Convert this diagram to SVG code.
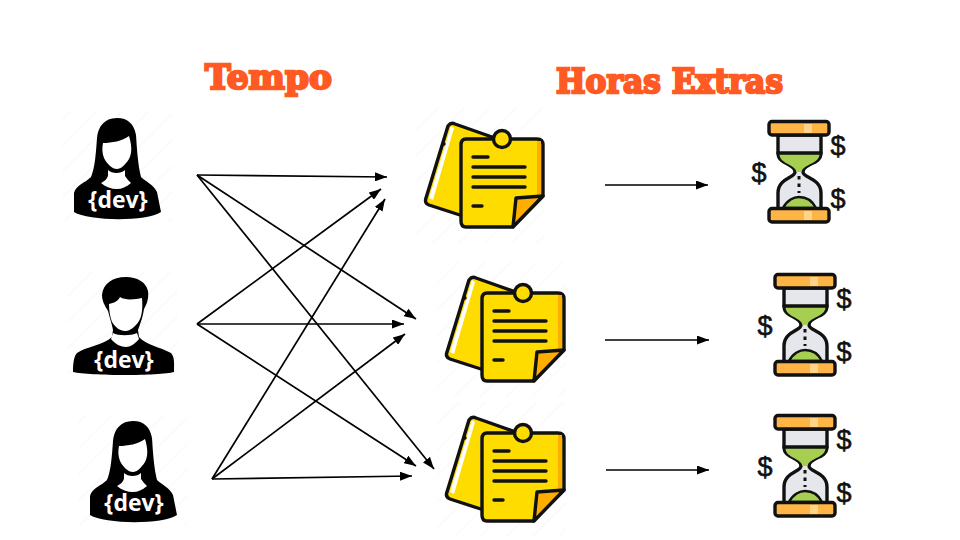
<svg xmlns="http://www.w3.org/2000/svg" width="960" height="540" viewBox="0 0 960 540">
<style>
.title{font-family:"DejaVu Serif","Liberation Serif",serif;font-weight:900;font-size:34px;fill:#ff5a24;stroke:#ff5a24;stroke-width:2.4px;paint-order:stroke}
.dev{font-family:"Open Sans","Liberation Sans",sans-serif;font-weight:700;font-size:23px;fill:#fff;text-anchor:middle}
.usd{font-family:"Liberation Sans",sans-serif;font-size:27px;fill:#111;stroke:#111;stroke-width:.6;text-anchor:middle}
.c line{stroke:#000;stroke-width:1.7;marker-end:url(#ah)}
.k{stroke:#111;stroke-width:3.4;stroke-linejoin:round;stroke-linecap:round}
.l{stroke:#111;stroke-width:3.4;stroke-linecap:round;fill:none}
</style>
<defs>
<marker id="ah" viewBox="0 0 10 10" refX="10" refY="5" markerWidth="12" markerHeight="9" markerUnits="userSpaceOnUse" orient="auto" preserveAspectRatio="none"><path d="M0 0L10 5L0 10Z" fill="#000"/></marker>
<pattern id="st" width="26" height="26" patternUnits="userSpaceOnUse"><path d="M0 26L26 0" stroke="#fafafa" stroke-width="1.5"/></pattern>
<g id="woman">
<rect x="62" y="112" width="110" height="110" fill="url(#st)"/>
<path d="M117 118C104 118 98 127 97 138C96 152 95 168 91 177C85 183 76 185 74 193L74 212C88 221 146 222 161 212L157 192C153 184 146 182 141 177C138 165 137 150 136 135C134 124 128 118 117 118Z" fill="#000"/>
<path d="M103 143C112 143 122 141 129 136C132 146 132 153 129 159C125 165 121 169 117 169C112 169 107 164 104 158C102 153 102 148 103 143Z" fill="#fff"/>
<path d="M108 170C112 174 121 174 125 170L125 176C127 179 129 181 131 183C126 187 122 189 117 189C111 189 106 187 101 183C105 181 108 178 108 175Z" fill="#fff"/>
<text class="dev" x="118" y="208">{dev}</text>
</g>
<g id="note">
<rect x="415" y="108" width="130" height="135" fill="url(#st)"/>
<path class="k" d="M448 126Q451 122 455 124L492 137L463 216L429 205Q424 203 426 198Z" fill="#ffdc00"/>
<path d="M451 126L429 198L433 200L454 128Z" fill="#fff"/>
<circle cx="444" cy="144" r="1.700" fill="#111"/>
<path class="k" d="M466 139H537Q543 139 543 145V196L512 227H466Q461 227 461 221V145Q461 139 466 139Z" fill="#ffdc00"/>
<path d="M537 141H541V194L537 195Z" fill="#ffae00"/>
<path class="k" d="M543 196L516 198L513 227Z" fill="#ffae00"/>
<circle class="k" cx="502" cy="139" r="8.500" fill="#ffdc00"/>
<path class="l" d="M473 157H488M473 167H525M473 177H525M473 187H525M473 206H482"/>
</g>
<g id="glass">
<path class="k" d="M778 135V153C778 165 795 163 795 172C795 178 778 178 778 193V209H821V193C821 178 803 178 803 172C803 163 821 165 821 153V135Z" fill="#e6e7ec"/>
<path d="M779.500 154H819.500C819.500 164 803 164 801.500 172L796.500 172C795 164 779.500 164 779.500 154Z" fill="#a6cf52"/>
<path d="M783 208C787 200 794 197 799 197C805 197 812 200 816 208Z" fill="#a6cf52" stroke="#111" stroke-width="2.500"/>
<path class="l" d="M778 153H821"/>
<rect class="k" x="769" y="121.500" width="60" height="13.500" rx="3" fill="#ffb545"/>
<rect class="k" x="769" y="208.500" width="60" height="13.500" rx="3" fill="#ffb545"/>
<rect x="804" y="124" width="8" height="9" fill="#ffd488"/>
<rect x="804" y="211" width="8" height="9" fill="#ffd488"/>
<path d="M799 176V193" stroke="#111" stroke-width="3" stroke-dasharray="3.500 4"/>
<text class="usd" x="838" y="155">$</text>
<text class="usd" x="759" y="182">$</text>
<text class="usd" x="838" y="208">$</text>
</g>
</defs>
<rect width="960" height="540" fill="#fff"/>
<g id="titles">
<text id="t1" class="title" x="205" y="89" textLength="127" lengthAdjust="spacingAndGlyphs">Tempo</text>
<text id="t2" class="title" x="556" y="93" textLength="227" lengthAdjust="spacingAndGlyphs">Horas Extras</text>
</g>
<g id="dev1"><use href="#woman"/></g>
<g id="dev2">
<rect x="68" y="272" width="110" height="106" fill="url(#st)"/>
<path d="M126 277C112 277 103 284 102 295C102 301 105 306 108 311C110 319 112 324 113 330L112 337C104 345 85 347 77 353C73 357 73 368 73 372C90 376 160 376 174 372C174 365 175 357 171 353C160 347 146 345 139 337L138 330C141 322 143 316 144 309C147 304 149 298 148 291C146 282 137 277 126 277Z" fill="#000"/>
<path d="M109 304C114 303 118 301 120 297C126 301 136 299 142 298C143 310 142 320 135 326C131 330 128 331 125 331C120 331 115 327 112 322C110 317 109 310 109 304Z" fill="#fff"/>
<path d="M113 333C118 336 131 336 137 333L139 339C135 344 130 347 126 347C121 347 115 344 111 339Z" fill="#fff"/>
<text class="dev" x="124" y="368">{dev}</text>
</g>
<g id="dev3"><use href="#woman" x="16" y="303"/></g>
<g id="note1"><use href="#note"/></g>
<g id="note2"><use href="#note" x="21" y="154"/></g>
<g id="note3"><use href="#note" x="21" y="294"/></g>
<g id="glass1"><use href="#glass"/></g>
<g id="glass2"><use href="#glass" x="6" y="153"/></g>
<g id="glass3"><use href="#glass" x="6" y="294"/></g>
<g id="connectors" class="c">
<line x1="197" y1="175" x2="387" y2="177"/>
<line x1="197" y1="175" x2="416" y2="319"/>
<line x1="197" y1="175" x2="434" y2="469"/>
<line x1="197" y1="324" x2="381" y2="189"/>
<line x1="197" y1="324" x2="404" y2="324"/>
<line x1="197" y1="324" x2="416" y2="466"/>
<line x1="212" y1="479" x2="385" y2="199"/>
<line x1="212" y1="479" x2="405" y2="334"/>
<line x1="212" y1="479" x2="412" y2="476"/>
<line x1="605" y1="185" x2="708" y2="185"/>
<line x1="605" y1="340" x2="709" y2="340"/>
<line x1="606" y1="470" x2="709" y2="470"/>
</g>
</svg>
